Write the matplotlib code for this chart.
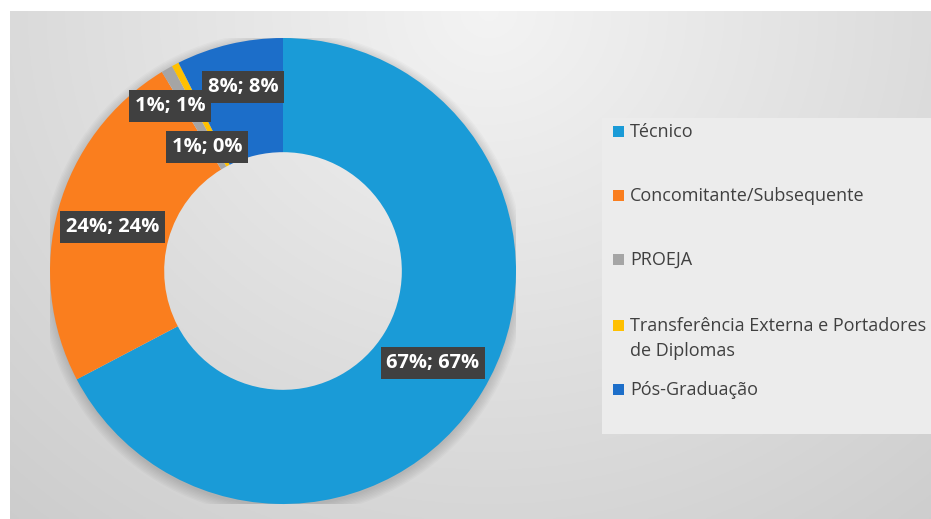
import numpy as np
import matplotlib
matplotlib.use("Agg")
import matplotlib.pyplot as plt
from matplotlib.patches import Rectangle, Wedge

plt.rcParams['font.family'] = ['Open Sans', 'DejaVu Sans']

# dados
categorias = ['Técnico', 'Concomitante/Subsequente', 'PROEJA',
              'Transferência Externa e Portadores\nde Diplomas', 'Pós-Graduação']
valores = [67.3, 24.0, 0.8, 0.5, 7.4]
rotulos = ['67%; 67%', '24%; 24%', '1%; 1%', '1%; 0%', '8%; 8%']
cores = ['#1a9bd7', '#fa7e1e', '#a5a5a5', '#ffc000', '#1c6ec9']

# posicao dos rotulos (raio e desvio de angulo)
rot_raio = [0.755, 0.755, 0.858, 0.624, 0.808]
rot_desvio = [-0.4, 1.0, 4.5, 4.0, -1.0]

W, H = 931, 519
fig = plt.figure(figsize=(W / 100, H / 100), dpi=100)
fig.patch.set_facecolor('white')

# fundo com gradiente
bg = fig.add_axes([10 / W, 0, (W - 10) / W, (H - 11) / H])
u = np.linspace(0, 1, 400)
t = np.linspace(0, 1, 250)
U, T = np.meshgrid(u, t)
d = np.sqrt(((U - 0.52) / 0.6) ** 2 + (T / 1.0) ** 2)
g = np.clip(0.955 - 0.115 * d, 0, 1)
bg.imshow(np.dstack([g, g, g]), aspect='auto', extent=(0, 1, 1, 0))
bg.set_axis_off()

# caixa da legenda
fig.patches.append(Rectangle((602 / W, (H - 434) / H), (W - 602) / W, (434 - 118) / H,
                             transform=fig.transFigure, facecolor='#ececec',
                             edgecolor='none', zorder=1))

# rosca
R = 233
cx, cy = 283, 271
ax = fig.add_axes([(cx - R) / W, (H - cy - R) / H, 2 * R / W, 2 * R / H])
ax.patch.set_alpha(0)

# sombra suave (so no anel externo)
for k in range(8):
    ax.add_patch(Wedge((0.0, -0.012), 1.0 + 0.006 * k, 0, 360, width=0.04 + 0.006 * k,
                       facecolor='black', alpha=0.02, edgecolor='none', zorder=0))

wedges, _ = ax.pie(valores, colors=cores, startangle=90, counterclock=False,
                   radius=1.0, wedgeprops=dict(width=0.49, linewidth=0))
for w in wedges:
    w.set_zorder(2)

total = sum(valores)
acum = 0
for i, v in enumerate(valores):
    meio = 90 - 360 * (acum + v / 2) / total + rot_desvio[i]
    acum += v
    a = np.deg2rad(meio)
    ax.text(rot_raio[i] * np.cos(a), rot_raio[i] * np.sin(a), rotulos[i],
            ha='center', va='center', color='white', fontsize=14.5,
            fontweight='bold', zorder=5,
            bbox=dict(boxstyle='square,pad=0.28', facecolor='#404040',
                      edgecolor='none'))
ax.set_xlim(-1, 1)
ax.set_ylim(-1, 1)
ax.set_axis_off()

# legenda
leg_base = [137, 201, 265, 331, 395]
for i, nome in enumerate(categorias):
    yb = leg_base[i]
    fig.patches.append(Rectangle((613 / W, (H - yb) / H), 11 / W, 11 / H,
                                 transform=fig.transFigure, facecolor=cores[i],
                                 edgecolor='none', zorder=3))
    linhas = nome.split('\n')
    for j, lin in enumerate(linhas):
        fig.text(630 / W, (H - yb - 25 * j) / H, lin, ha='left', va='baseline',
                 fontsize=13, color='#404040', zorder=4)

fig.savefig('out.png', dpi=100)
